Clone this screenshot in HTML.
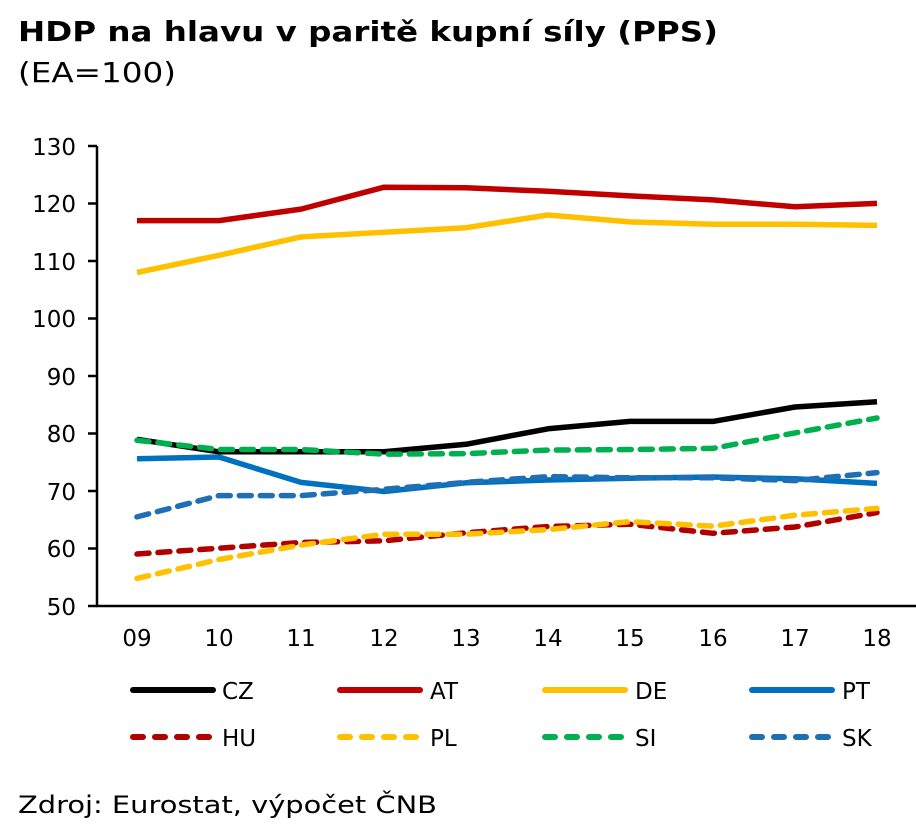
<!DOCTYPE html><html><head><meta charset="utf-8"><style>body{margin:0;background:#fff}svg{display:block}</style></head><body>
<svg width="916" height="825" xmlns="http://www.w3.org/2000/svg" font-family="DejaVu Sans, Liberation Sans, sans-serif">
<text x="18" y="41" font-size="28" font-weight="bold" fill="#000" textLength="700" lengthAdjust="spacingAndGlyphs">HDP na hlavu v paritě kupní síly (PPS)</text>
<text x="18" y="82" font-size="28" fill="#000" textLength="158" lengthAdjust="spacingAndGlyphs">(EA=100)</text>
<g font-size="23" fill="#000" text-anchor="end">
<text x="76" y="155">130</text><text x="76" y="212">120</text><text x="76" y="270">110</text><text x="76" y="327">100</text><text x="76" y="385">90</text><text x="76" y="442">80</text><text x="76" y="500">70</text><text x="76" y="557">60</text><text x="76" y="615">50</text>
</g>
<g font-size="23" fill="#000" text-anchor="middle">
<text x="137" y="646">09</text><text x="219" y="646">10</text><text x="301" y="646">11</text><text x="384" y="646">12</text><text x="466" y="646">13</text><text x="548" y="646">14</text><text x="630" y="646">15</text><text x="713" y="646">16</text><text x="795" y="646">17</text><text x="877" y="646">18</text>
</g>
<g stroke="#000" stroke-width="2.5">
<line x1="97" y1="146" x2="97" y2="607"/><line x1="96" y1="606" x2="916" y2="606"/>
<line x1="88" y1="146" x2="97" y2="146"/><line x1="88" y1="203.5" x2="97" y2="203.5"/><line x1="88" y1="261" x2="97" y2="261"/><line x1="88" y1="318.5" x2="97" y2="318.5"/><line x1="88" y1="376" x2="97" y2="376"/><line x1="88" y1="433.5" x2="97" y2="433.5"/><line x1="88" y1="491" x2="97" y2="491"/><line x1="88" y1="548.5" x2="97" y2="548.5"/><line x1="88" y1="606" x2="97" y2="606"/>
</g>
<g fill="none" stroke-width="5.5" stroke-linejoin="round">
<polyline stroke="#c00000" points="137,220.6 219,220.6 301,209.1 384,187.2 466,187.8 548,191.3 630,195.9 713,199.9 795,206.8 877,203.4"/>
<polyline stroke="#ffc000" points="137,272.5 219,255.3 301,236.9 384,232.3 466,227.7 548,215 630,221.9 713,224.2 795,224.2 877,225.4"/>
<polyline stroke="#000" points="137,439.3 219,451.8 301,451.8 384,451.8 466,444.3 548,428.8 630,421.4 713,421.4 795,407 877,401.8"/>
<polyline stroke="#0070c0" points="137,458.8 219,457 301,482.4 384,491.5 466,482.8 548,480 630,478.2 713,477 795,478.8 877,483.4"/>
</g>
<g fill="none" stroke-width="5.5" stroke-dasharray="12 9" stroke-linecap="round" stroke-linejoin="round">
<polyline stroke="#00b050" points="137,440.3 219,449.5 301,449.5 384,454.2 466,453.6 548,450.1 630,449.5 713,448.4 795,432.9 877,418"/>
<polyline stroke="#1f6fb5" points="137,516.9 219,495.6 301,495.6 384,489.3 466,482.4 548,476.6 630,477.8 713,477.8 795,480.6 877,472.6"/>
<polyline stroke="#b00000" points="137,554 219,548.2 301,542.5 384,540.8 466,532.8 548,526.5 630,524.2 713,533.3 795,527 877,512.6"/>
<polyline stroke="#ffc000" points="137,578.4 219,559.5 301,545.1 384,534.2 466,534.2 548,529.6 630,521.6 713,526.2 795,515.2 877,508.4"/>
</g>
<g stroke-width="6" stroke-linecap="round">
<line x1="133" y1="690" x2="213" y2="690" stroke="#000"/>
<line x1="340" y1="690" x2="420" y2="690" stroke="#c00000"/>
<line x1="545" y1="690" x2="625" y2="690" stroke="#ffc000"/>
<line x1="752" y1="690" x2="832" y2="690" stroke="#0070c0"/>
</g>
<g stroke-width="6" stroke-linecap="round" stroke-dasharray="10 12">
<line x1="133" y1="737" x2="213" y2="737" stroke="#b00000"/>
<line x1="340" y1="737" x2="420" y2="737" stroke="#ffc000"/>
<line x1="545" y1="737" x2="625" y2="737" stroke="#00b050"/>
<line x1="752" y1="737" x2="832" y2="737" stroke="#1f6fb5"/>
</g>
<g font-size="23" fill="#000">
<text x="222" y="699">CZ</text><text x="430" y="699">AT</text><text x="635" y="699">DE</text><text x="842" y="699">PT</text>
<text x="222" y="746">HU</text><text x="430" y="746">PL</text><text x="635" y="746">SI</text><text x="842" y="746">SK</text>
</g>
<text x="18" y="813" font-size="24" fill="#000" textLength="419" lengthAdjust="spacingAndGlyphs">Zdroj: Eurostat, výpočet ČNB</text>
</svg>
</body></html>
